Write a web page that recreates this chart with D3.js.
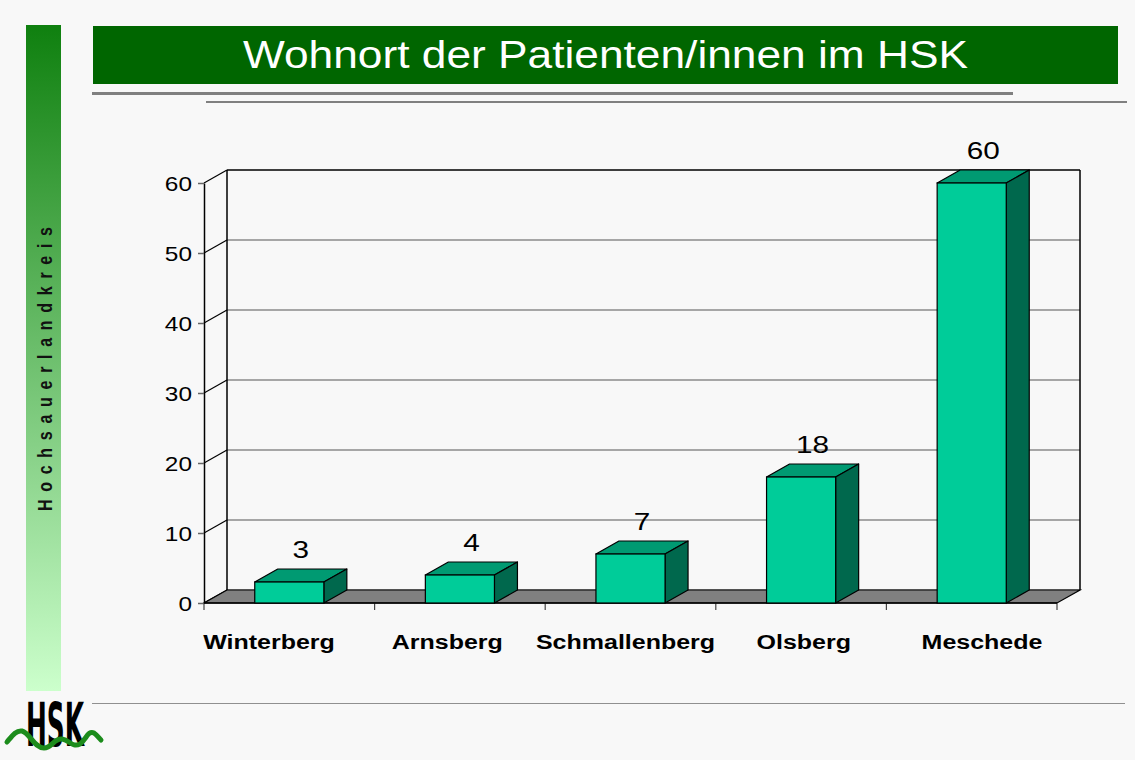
<!DOCTYPE html>
<html>
<head>
<meta charset="utf-8">
<script src="https://cdn.jsdelivr.net/npm/d3@7"></script>
<style>
  body { margin: 0; background: #f8f8f8; }
  svg { display: block; font-family: "Liberation Sans", Arial, sans-serif; }
</style>
</head>
<body>
<div id="chart"></div>
<script>
// Daten: Wohnort der Patienten/innen
const orte = ["Winterberg", "Arnsberg", "Schmallenberg", "Olsberg", "Meschede"];
const anzahl = [3, 4, 7, 18, 60];
const yTicks = [0, 10, 20, 30, 40, 50, 60];
const titel = "Wohnort der Patienten/innen im HSK";
const seitenText = "H o c h s a u e r l a n d k r e i s";

const width = 1135, height = 760;
const depth = { dx: 23, dy: -13 };   // 3D-Versatz
const plot = { left: 204, right: 1057, top: 183, bottom: 603 };

const svg = d3.select("#chart").append("svg")
    .attr("width", width)
    .attr("height", height);

svg.append("rect").attr("width", width).attr("height", height).attr("fill", "#f8f8f8");

// Seitenleiste mit Verlauf
const defs = svg.append("defs");
const grad = defs.append("linearGradient").attr("id", "side").attr("x1", 0).attr("y1", 0).attr("x2", 0).attr("y2", 1);
grad.append("stop").attr("offset", "0%").attr("stop-color", "#0f800f");
grad.append("stop").attr("offset", "100%").attr("stop-color", "#ccffcc");

svg.append("rect").attr("x", 26).attr("y", 25).attr("width", 35).attr("height", 666).attr("fill", "url(#side)");
svg.append("text")
    .attr("transform", "translate(52,369) scale(1.3,1) rotate(-90)")
    .attr("text-anchor", "middle")
    .attr("font-size", 16)
    .attr("font-weight", "bold")
    .attr("fill", "#111")
    .attr("textLength", 284)
    .attr("lengthAdjust", "spacing")
    .text(seitenText);

// Titelbalken
svg.append("rect").attr("x", 93).attr("y", 26).attr("width", 1025).attr("height", 58).attr("fill", "#006600");
svg.append("text")
    .attr("x", 605.5).attr("y", 68)
    .attr("text-anchor", "middle")
    .attr("font-size", 38)
    .attr("fill", "#fff")
    .attr("textLength", 725)
    .attr("lengthAdjust", "spacingAndGlyphs")
    .text(titel);

// Trennlinien
svg.append("rect").attr("x", 92).attr("y", 92).attr("width", 921).attr("height", 3).attr("fill", "#808080");
svg.append("rect").attr("x", 206).attr("y", 101).attr("width", 921).attr("height", 2).attr("fill", "#808080");
svg.append("rect").attr("x", 92).attr("y", 703).attr("width", 1033).attr("height", 1).attr("fill", "#909090");

// Skalen
const x = d3.scaleBand().domain(orte).range([plot.left, plot.right]).padding(0);
const y = d3.scaleLinear().domain([0, 60]).range([plot.bottom, plot.top]);
const labelX = d3.scalePoint().domain(orte).range([269, 982]);
const barW = x.bandwidth() * 0.405;

// Rückwand + Gitter
const back = svg.append("g");
yTicks.forEach(v => {
    back.append("line")
        .attr("x1", plot.left + depth.dx).attr("x2", plot.right + depth.dx)
        .attr("y1", y(v) + depth.dy).attr("y2", y(v) + depth.dy)
        .attr("stroke", v === 60 ? "#000" : "#555").attr("stroke-width", v === 60 ? 1.5 : 1.2);
    back.append("line")
        .attr("x1", plot.left).attr("x2", plot.left + depth.dx)
        .attr("y1", y(v)).attr("y2", y(v) + depth.dy)
        .attr("stroke", "#000").attr("stroke-width", 1.2);
});
back.append("line")
    .attr("x1", plot.left + depth.dx).attr("x2", plot.left + depth.dx)
    .attr("y1", y(60) + depth.dy).attr("y2", y(0) + depth.dy)
    .attr("stroke", "#000").attr("stroke-width", 1.5);
back.append("line")
    .attr("x1", plot.right + depth.dx).attr("x2", plot.right + depth.dx)
    .attr("y1", y(60) + depth.dy).attr("y2", y(0) + depth.dy)
    .attr("stroke", "#000").attr("stroke-width", 1.5);

// Boden
const y0 = y(0);
svg.append("path")
    .attr("d", `M${plot.left},${y0}L${plot.right},${y0}L${plot.right + depth.dx},${y0 + depth.dy}L${plot.left + depth.dx},${y0 + depth.dy}Z`)
    .attr("fill", "#808080")
    .attr("stroke", "#000")
    .attr("stroke-width", 1.2);

// Y-Achse
const yAxis = svg.append("g")
    .attr("transform", `translate(${plot.left},0)`)
    .call(d3.axisLeft(y).tickValues(yTicks).tickSize(6).tickSizeOuter(0));
yAxis.select(".domain").attr("stroke", "#000").attr("stroke-width", 1.5);
yAxis.selectAll(".tick line").attr("stroke", "#666").attr("stroke-width", 1.5);
yAxis.selectAll(".tick text")
    .attr("font-size", 20)
    .attr("font-family", "Liberation Sans, Arial, sans-serif")
    .attr("fill", "#000")
    .attr("x", 0)
    .attr("dy", "0.35em")
    .attr("transform", "translate(-12,0) scale(1.22,1)");

// X-Achse: Striche an den Kategoriegrenzen
const grenzen = orte.map(o => x(o)).concat([x.range()[1]]);
svg.selectAll(".xtick").data(grenzen).enter().append("line")
    .attr("class", "xtick")
    .attr("x1", d => d).attr("x2", d => d)
    .attr("y1", y0).attr("y2", y0 + 7)
    .attr("stroke", "#444").attr("stroke-width", 1.2);
svg.append("line")
    .attr("x1", plot.left).attr("x2", plot.right)
    .attr("y1", y0).attr("y2", y0)
    .attr("stroke", "#000").attr("stroke-width", 1.5);

// Balken (3D)
const data = orte.map((o, i) => ({ ort: o, wert: anzahl[i] }));
const bars = svg.selectAll(".bar").data(data).enter().append("g").attr("class", "bar");
bars.each(function (d) {
    const g = d3.select(this);
    const cx = x(d.ort) + x.bandwidth() / 2;
    const x1 = cx - barW / 2, x2 = cx + barW / 2;
    const yt = y(d.wert), yb = y(0);
    // Oberseite
    g.append("path")
        .attr("d", `M${x1},${yt}L${x1 + depth.dx},${yt + depth.dy}L${x2 + depth.dx},${yt + depth.dy}L${x2},${yt}Z`)
        .attr("fill", "#009a72").attr("stroke", "#000").attr("stroke-width", 1.2).attr("stroke-linejoin", "round");
    // Seite
    g.append("path")
        .attr("d", `M${x2},${yt}L${x2 + depth.dx},${yt + depth.dy}L${x2 + depth.dx},${yb + depth.dy}L${x2},${yb}Z`)
        .attr("fill", "#00684d").attr("stroke", "#000").attr("stroke-width", 1.2).attr("stroke-linejoin", "round");
    // Vorderseite
    g.append("rect")
        .attr("x", x1).attr("y", yt).attr("width", barW).attr("height", yb - yt)
        .attr("fill", "#00cc99").attr("stroke", "#000").attr("stroke-width", 1.2);
    // Wert
    g.append("text")
        .attr("transform", `translate(${cx + depth.dx / 2},${yt + depth.dy - 11}) scale(1.24,1)`)
        .attr("text-anchor", "middle")
        .attr("font-size", 24)
        .attr("fill", "#000")
        .text(d.wert);
});

// Kategorienbeschriftung
svg.selectAll(".cat").data(orte).enter().append("text")
    .attr("class", "cat")
    .attr("transform", d => `translate(${labelX(d)},649) scale(1.25,1)`)
    .attr("text-anchor", "middle")
    .attr("font-size", 20)
    .attr("font-weight", "bold")
    .attr("fill", "#000")
    .text(d => d);

// HSK-Logo
svg.append("text")
    .attr("x", 26).attr("y", 746)
    .attr("font-family", "Liberation Sans Narrow, DejaVu Sans Condensed, sans-serif")
    .attr("font-size", 60)
    .attr("font-weight", "bold")
    .attr("fill", "#000")
    .attr("textLength", 58)
    .attr("lengthAdjust", "spacingAndGlyphs")
    .text("HSK");
svg.append("path")
    .attr("d", "M7,742 C12,736 16,730 22,731 C30,733 34,748 44,748 C52,748 54,738 62,739 C70,740 72,748 80,744 C86,740 88,730 94,733 C97,735 99,738 101,740")
    .attr("fill", "none")
    .attr("stroke", "#1c8c1c")
    .attr("stroke-width", 5)
    .attr("stroke-linecap", "round");
</script>
</body>
</html>
